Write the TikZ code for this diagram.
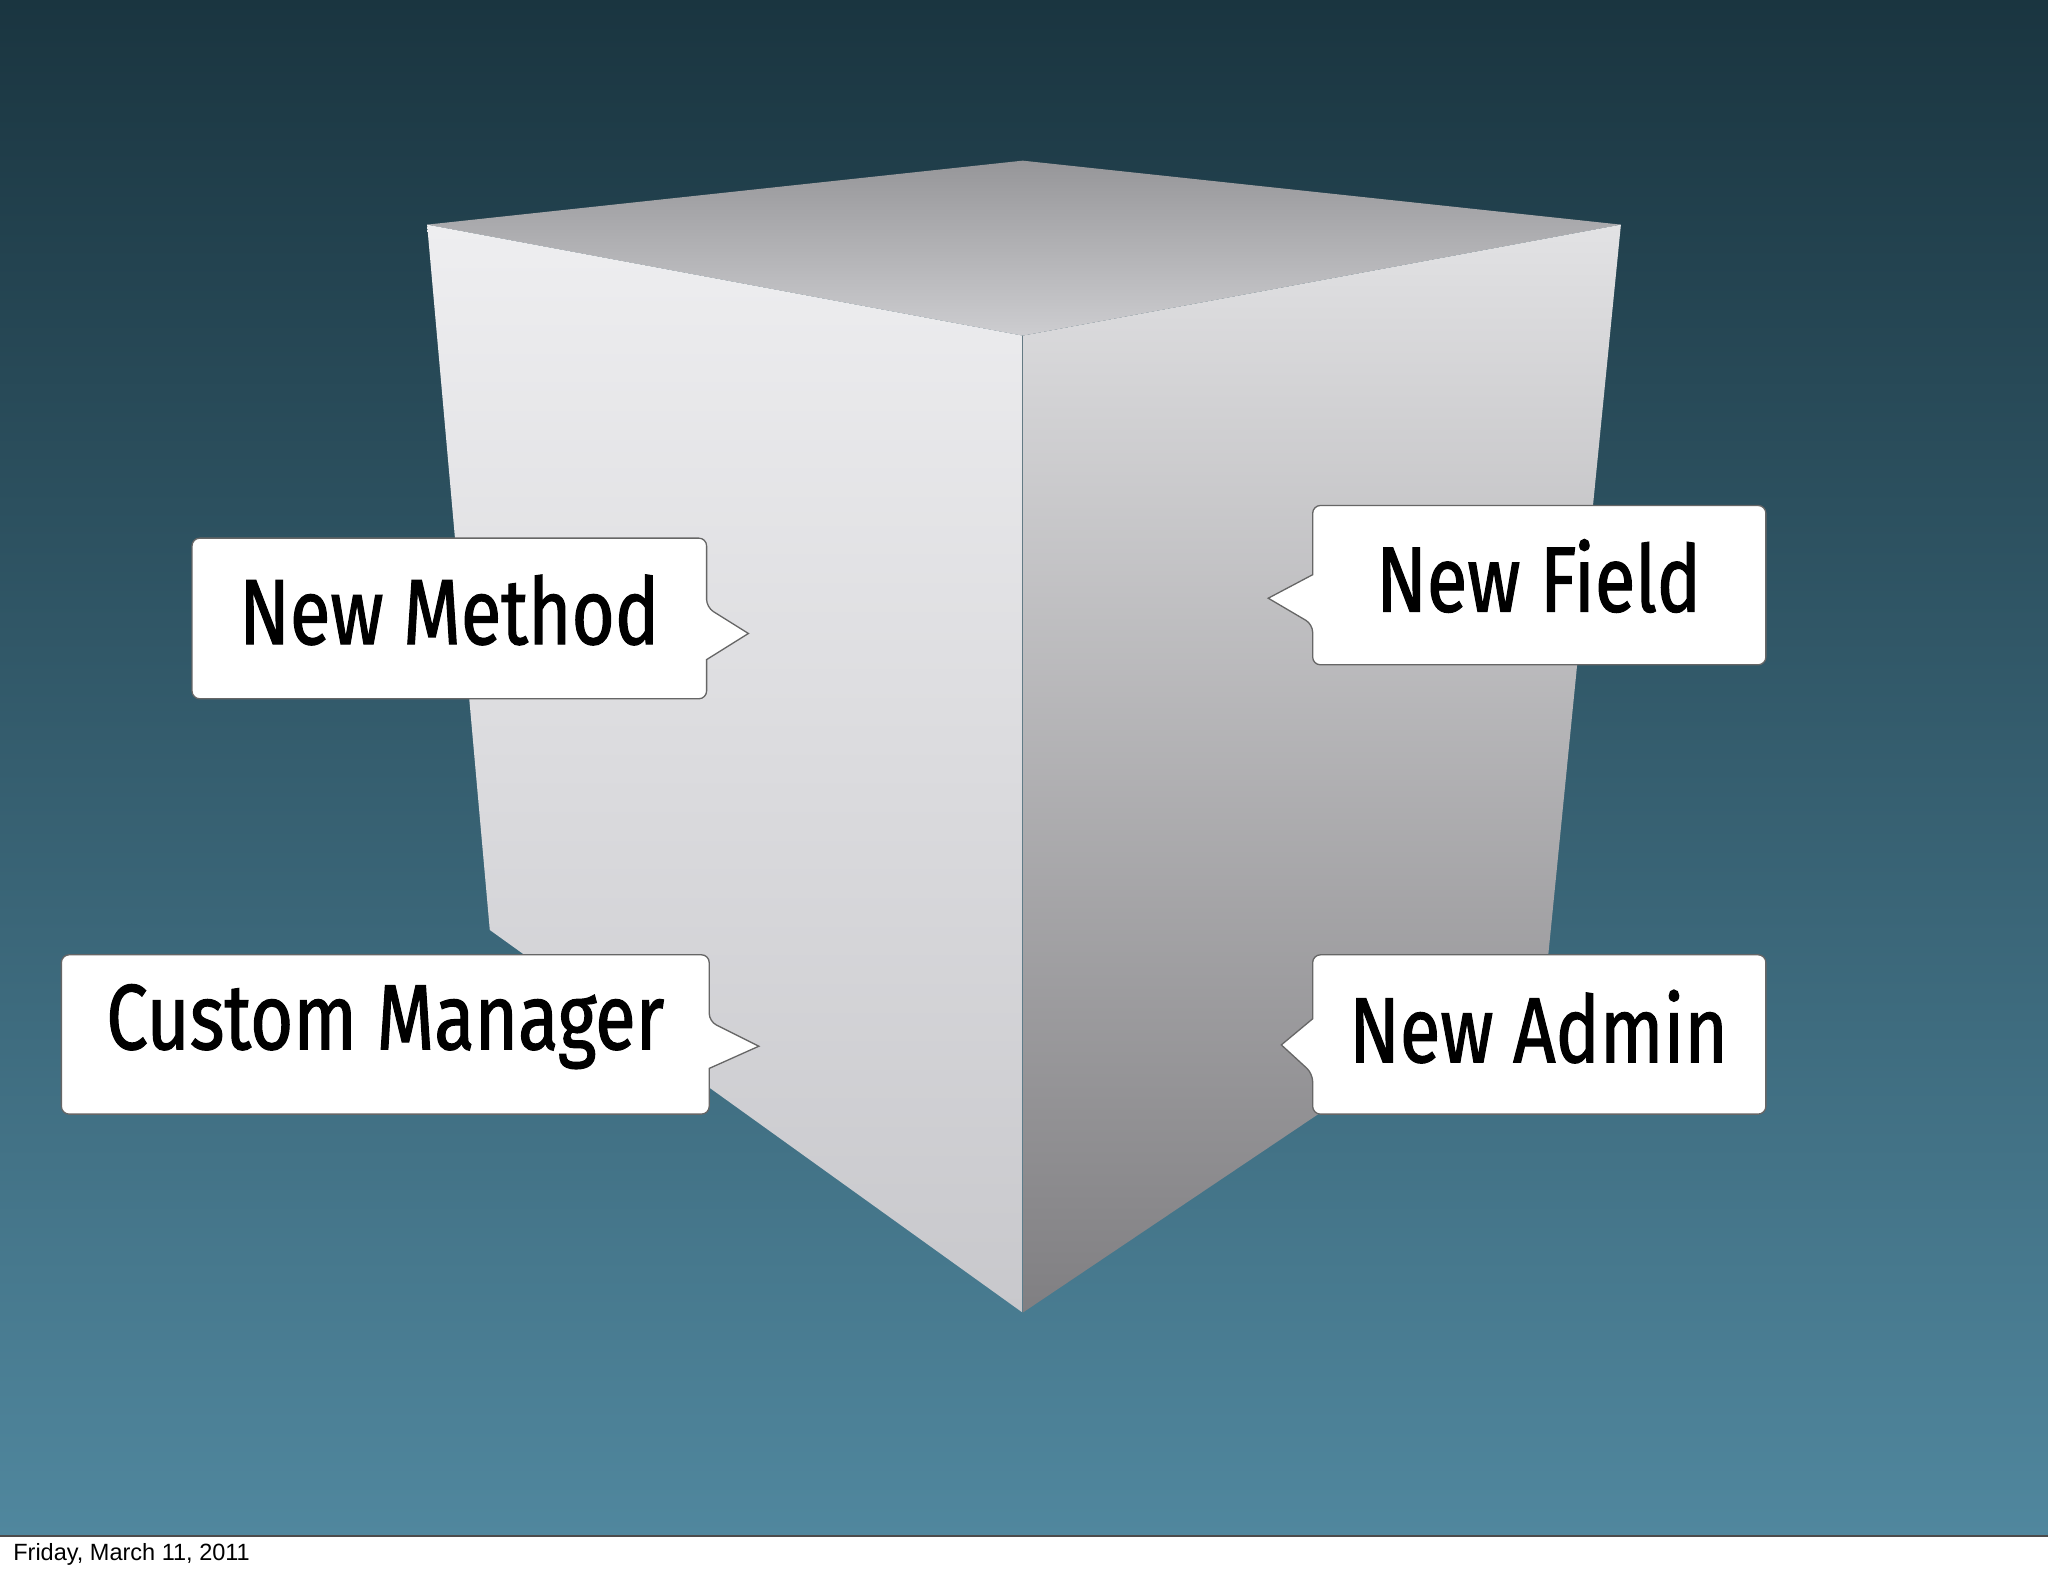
\documentclass[tikz,border=0pt]{standalone}
\usepackage{fontspec}
\setmainfont{Liberation Sans}
\newfontfamily\calloutfont[FakeStretch=0.8,FakeBold=1.2]{Fira Sans}
\begin{document}
\begin{tikzpicture}[x=1pt,y=-1pt,
  callout/.style={fill=white,draw=black!60,line width=1pt},
  lbl/.style={font=\calloutfont\fontsize{71}{73}\selectfont,text=black,inner sep=0pt}]
\useasboundingbox (0,0) rectangle (1568,1206);
\fill[white] (0,0) rectangle (1568,1206);
\shade[top color={rgb,255:red,26;green,53;blue,64}, bottom color={rgb,255:red,80;green,135;blue,158}] (0,0) rectangle (1568,1176);
\draw[black!70,line width=0.8pt] (0,1176) -- (1568,1176);
\node[anchor=west,font=\fontsize{18}{19}\selectfont,inner sep=0pt] (foot) at (10,1190) {Friday, March 11, 2011};
% cube faces
\begin{scope}
\clip (327,172) -- (783,123) -- (1241,172) -- (783,257) -- cycle;
\shade[top color={rgb,255:red,150;green,150;blue,153}, bottom color={rgb,255:red,205;green,205;blue,208}] (327,123) rectangle (1241,257);
\end{scope}
\begin{scope}
\clip (327,172) -- (783,257) -- (783,1005) -- (375,712) -- cycle;
\shade[top color={rgb,255:red,238;green,238;blue,240}, bottom color={rgb,255:red,200;green,200;blue,204}] (327,172) rectangle (783,1005);
\end{scope}
\begin{scope}
\clip (783,257) -- (1241,172) -- (1185,735) -- (783,1005) -- cycle;
\shade[shading angle=-30, top color={rgb,255:red,226;green,226;blue,228}, bottom color={rgb,255:red,128;green,127;blue,130}] (700,172) rectangle (1300,1005);
\end{scope}
% labels
\node[lbl] (nm) at (344,467) {New Method};
\node[lbl] (cm) at (295,786) {Custom Manager};
\node[lbl] (nf) at (1178,441) {New Field};
\node[lbl] (na) at (1178,786) {New Admin};
% callouts
\draw[callout,rounded corners=6] (147,412) -- (541,412) -- (541,465) [sharp corners] -- (573,485) -- (541,505) [rounded corners=6] -- (541,535) -- (147,535) -- cycle;
\draw[callout,rounded corners=6] (47,731) -- (543,731) -- (543,782) [sharp corners] -- (581,801) -- (543,818) [rounded corners=6] -- (543,853) -- (47,853) -- cycle;
\draw[callout,rounded corners=6] (1005,387) -- (1352,387) -- (1352,509) -- (1005,509) -- (1005,478) [sharp corners] -- (971,458) -- (1005,440) [rounded corners=6] -- cycle;
\draw[callout,rounded corners=6] (1005,731) -- (1352,731) -- (1352,853) -- (1005,853) -- (1005,822) [sharp corners] -- (981,800) -- (1005,780) [rounded corners=6] -- cycle;
\node[lbl] at (nm) {New Method};
\node[lbl] at (cm) {Custom Manager};
\node[lbl] at (nf) {New Field};
\node[lbl] at (na) {New Admin};
\end{tikzpicture}
\end{document}
